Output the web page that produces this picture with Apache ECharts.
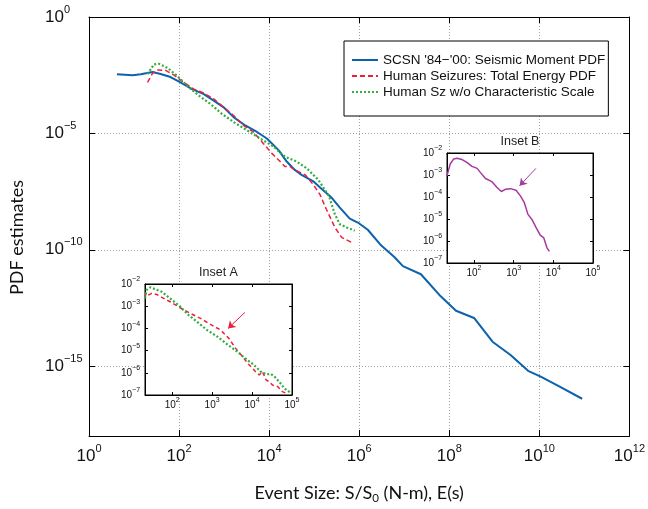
<!DOCTYPE html>
<html>
<head>
<meta charset="utf-8">
<script src="https://cdn.jsdelivr.net/npm/echarts@6/dist/echarts.min.js"></script>
<style>
  html, body { margin: 0; padding: 0; background: #fff; }
  #chart { width: 648px; height: 509px; }
</style>
</head>
<body>
<div id="chart"></div>
<script>
// all values are log10: [log10(size), log10(pdf)]
const scsnMoment = [[0.62,-2.46],[0.97,-2.50],[1.15,-2.46],[1.41,-2.36],[1.59,-2.45],[1.81,-2.58],[2.03,-2.81],[2.29,-3.10],[2.55,-3.31],[2.77,-3.59],[2.99,-3.88],[3.21,-4.30],[3.47,-4.66],[3.73,-4.94],[3.95,-5.22],[4.21,-5.72],[4.39,-6.21],[4.57,-6.57],[4.72,-6.78],[4.98,-7.06],[5.13,-7.32],[5.39,-7.77],[5.57,-8.19],[5.79,-8.66],[5.97,-8.83],[6.19,-9.14],[6.49,-9.82],[6.78,-10.31],[6.97,-10.70],[7.37,-11.05],[7.78,-11.94],[8.15,-12.62],[8.55,-12.93],[8.96,-13.95],[9.36,-14.52],[9.75,-15.20],[10.03,-15.45],[10.43,-15.86],[10.95,-16.40]];
const seizureEnergy = [[1.30,-2.81],[1.41,-2.42],[1.52,-2.28],[1.70,-2.29],[1.89,-2.50],[2.11,-2.81],[2.33,-3.10],[2.55,-3.27],[2.77,-3.52],[2.99,-3.88],[3.21,-4.23],[3.43,-4.66],[3.65,-4.94],[3.87,-5.43],[4.06,-5.86],[4.21,-6.14],[4.35,-6.42],[4.46,-6.42],[4.57,-6.57],[4.80,-6.78],[4.98,-7.20],[5.13,-7.63],[5.27,-8.26],[5.46,-9.04],[5.61,-9.47],[5.83,-9.68]];
const seizureNoScale = [[1.30,-2.46],[1.44,-2.04],[1.55,-2.01],[1.74,-2.18],[1.96,-2.53],[2.18,-2.96],[2.44,-3.38],[2.70,-3.74],[2.95,-4.16],[3.21,-4.51],[3.51,-4.87],[3.80,-5.22],[4.10,-5.57],[4.35,-6.00],[4.61,-6.21],[4.83,-6.49],[5.09,-6.99],[5.33,-7.70],[5.46,-8.48],[5.57,-8.90],[5.72,-9.04],[5.90,-9.18]];

const insetARed = [[1.32,-2.57],[1.35,-2.40],[1.40,-2.50],[1.49,-2.42],[1.61,-2.47],[1.74,-2.60],[1.95,-2.80],[2.20,-3.07],[2.41,-3.28],[2.71,-3.55],[2.96,-3.82],[3.21,-4.07],[3.42,-4.45],[3.59,-4.90],[3.76,-5.27],[3.93,-5.65],[4.09,-5.95],[4.18,-6.10],[4.26,-5.95],[4.35,-6.32],[4.43,-6.40],[4.51,-6.55],[4.64,-6.62],[4.76,-6.85],[4.85,-6.92]];
const insetAGreen = [[1.32,-2.65],[1.36,-2.27],[1.45,-2.15],[1.57,-2.23],[1.74,-2.35],[1.95,-2.65],[2.20,-3.02],[2.41,-3.40],[2.62,-3.70],[2.87,-4.07],[3.13,-4.37],[3.38,-4.72],[3.63,-5.05],[3.88,-5.42],[4.05,-5.65],[4.22,-5.95],[4.35,-6.07],[4.47,-6.05],[4.56,-6.17],[4.68,-6.40],[4.81,-6.70],[4.98,-6.92]];
const insetBPurple = [[1.32,-3.04],[1.40,-2.50],[1.49,-2.27],[1.57,-2.24],[1.70,-2.30],[1.82,-2.43],[1.95,-2.61],[2.08,-2.70],[2.16,-2.88],[2.29,-3.16],[2.45,-3.30],[2.58,-3.57],[2.69,-3.75],[2.79,-3.65],[2.92,-3.62],[3.06,-3.69],[3.17,-3.95],[3.27,-4.26],[3.36,-4.79],[3.46,-5.02],[3.57,-5.40],[3.67,-5.73],[3.76,-5.86],[3.84,-6.31],[3.90,-6.47]];

const arrowA = [[3.82,-3.28],[3.40,-4.00]];
const arrowB = [[3.56,-2.70],[3.15,-3.49]];

const mainYTicks = [0, -5, -10, -15];
const insetXTicks = [2, 3, 4, 5];
const legendNames = ["SCSN '84\u2212'00: Seismic Moment PDF", 'Human Seizures: Total Energy PDF', 'Human Sz w/o Characteristic Scale'];

const BLUE = '#0b62ad', RED = '#ee1f3d', GREEN = '#33ad3f', PURPLE = '#a4399f';
const TICKFONT = 'Liberation Sans';

function pow10(v) {
  const n = Math.round(v);
  return '{b|10}{e|' + (n < 0 ? '\u2212' + (-n) : n) + '}';
}
const mainRich = {
  b: { fontSize: 17, lineHeight: 26, fontFamily: TICKFONT, color: '#111' },
  e: { fontSize: 11, lineHeight: 11, verticalAlign: 'top', fontFamily: TICKFONT, color: '#111' }
};
const insetRich = {
  b: { fontSize: 10, lineHeight: 16, fontFamily: TICKFONT, color: '#111' },
  e: { fontSize: 7, lineHeight: 7, verticalAlign: 'top', fontFamily: TICKFONT, color: '#111' }
};
const gridDots = { show: true, lineStyle: { color: '#a0a0a0', type: [1, 2], width: 1 } };
const frameLine = { show: true, onZero: false, lineStyle: { color: '#000', width: 1 } };

function mirror(extra) {
  return Object.assign({
    type: 'value', axisLine: frameLine, axisLabel: { show: false },
    splitLine: { show: false }
  }, extra);
}

const chart = echarts.init(document.getElementById('chart'));
chart.setOption({
  animation: false,
  backgroundColor: '#fff',
  grid: [
    { left: 88, top: 17, width: 543, height: 425 },
    { left: 145, top: 284, width: 147, height: 111, show: true, backgroundColor: '#fff', borderColor: '#000', borderWidth: 1, z: 5 },
    { left: 447, top: 153, width: 146, height: 110, show: true, backgroundColor: '#fff', borderColor: '#000', borderWidth: 1, z: 5 }
  ],
  legend: {
    orient: 'vertical', left: 344, top: 41,
    padding: [12, 3, 17, 7], itemGap: 2, itemWidth: 26, itemHeight: 14,
    borderColor: '#000', borderWidth: 1, backgroundColor: '#fff',
    itemStyle: { opacity: 0 },
    textStyle: { fontFamily: TICKFONT, fontSize: 13.5, color: '#111' },
    data: legendNames
  },
  xAxis: [
    { type: 'value', gridIndex: 0, min: 0, max: 12, interval: 2, axisLine: frameLine,
      axisTick: { inside: true, length: 6, lineStyle: { color: '#000' } },
      axisLabel: { formatter: pow10, rich: mainRich, margin: 7 },
      splitLine: gridDots,
      name: '{a|Event Size: S/S}{s|0}{a| (N-m), E(s)}', nameLocation: 'middle', nameGap: 46,
      nameTextStyle: { rich: {
        a: { fontFamily: 'Lato', fontSize: 18, lineHeight: 22, color: '#111' },
        s: { fontFamily: 'Lato', fontSize: 11.5, lineHeight: 11, verticalAlign: 'bottom', color: '#111' } } } },
    mirror({ gridIndex: 0, position: 'top', min: 0, max: 12, interval: 2,
      axisTick: { inside: true, length: 6, lineStyle: { color: '#000' } } }),
    { type: 'value', gridIndex: 1, min: 1.32, max: 5, axisLine: frameLine, z: 6,
      axisTick: { inside: true, length: 3, customValues: insetXTicks, lineStyle: { color: '#000' } },
      axisLabel: { formatter: pow10, rich: insetRich, margin: 2, customValues: insetXTicks },
      splitLine: { show: false } },
    mirror({ gridIndex: 1, position: 'top', min: 1.32, max: 5, z: 6,
      axisTick: { inside: true, length: 3, customValues: insetXTicks, lineStyle: { color: '#000' } },
      name: 'Inset A', nameLocation: 'middle', nameGap: 5,
      nameTextStyle: { fontFamily: TICKFONT, fontSize: 12.5, color: '#222' } }),
    { type: 'value', gridIndex: 2, min: 1.32, max: 5, axisLine: frameLine, z: 6,
      axisTick: { inside: true, length: 3, customValues: insetXTicks, lineStyle: { color: '#000' } },
      axisLabel: { formatter: pow10, rich: insetRich, margin: 2, customValues: insetXTicks },
      splitLine: { show: false } },
    mirror({ gridIndex: 2, position: 'top', min: 1.32, max: 5, z: 6,
      axisTick: { inside: true, length: 3, customValues: insetXTicks, lineStyle: { color: '#000' } },
      name: 'Inset B', nameLocation: 'middle', nameGap: 5,
      nameTextStyle: { fontFamily: TICKFONT, fontSize: 12.5, color: '#222' } })
  ],
  yAxis: [
    { type: 'value', gridIndex: 0, min: -18, max: 0, axisLine: frameLine,
      axisTick: { inside: true, length: 6, customValues: mainYTicks, lineStyle: { color: '#000' } },
      axisLabel: { formatter: pow10, rich: mainRich, align: 'left', margin: 44, customValues: mainYTicks },
      splitLine: gridDots,
      name: 'PDF estimates', nameLocation: 'middle', nameGap: 63, nameRotate: 90,
      nameTextStyle: { fontFamily: 'Lato', fontSize: 18, color: '#111', padding: [0, 22, 0, 0] } },
    mirror({ gridIndex: 0, position: 'right', min: -18, max: 0,
      axisTick: { inside: true, length: 6, customValues: mainYTicks, lineStyle: { color: '#000' } } }),
    { type: 'value', gridIndex: 1, min: -7, max: -2, interval: 1, axisLine: frameLine, z: 6,
      axisTick: { inside: true, length: 3, lineStyle: { color: '#000' } },
      axisLabel: { formatter: pow10, rich: insetRich, align: 'left', margin: 24 },
      splitLine: { show: false } },
    mirror({ gridIndex: 1, position: 'right', min: -7, max: -2, interval: 1, z: 6,
      axisTick: { inside: true, length: 3, lineStyle: { color: '#000' } } }),
    { type: 'value', gridIndex: 2, min: -7, max: -2, interval: 1, axisLine: frameLine, z: 6,
      axisTick: { inside: true, length: 3, lineStyle: { color: '#000' } },
      axisLabel: { formatter: pow10, rich: insetRich, align: 'left', margin: 24 },
      splitLine: { show: false } },
    mirror({ gridIndex: 2, position: 'right', min: -7, max: -2, interval: 1, z: 6,
      axisTick: { inside: true, length: 3, lineStyle: { color: '#000' } } })
  ],
  series: [
    { name: legendNames[0], type: 'line', xAxisIndex: 0, yAxisIndex: 0, data: scsnMoment,
      symbol: 'none', color: BLUE, lineStyle: { color: BLUE, width: 2 } },
    { name: legendNames[1], type: 'line', xAxisIndex: 0, yAxisIndex: 0, data: seizureEnergy,
      symbol: 'none', color: RED, lineStyle: { color: RED, width: 1.5, type: [5, 3] } },
    { name: legendNames[2], type: 'line', xAxisIndex: 0, yAxisIndex: 0, data: seizureNoScale,
      symbol: 'none', color: GREEN, lineStyle: { color: GREEN, width: 2.2, type: [2, 2] } },
    { type: 'line', xAxisIndex: 2, yAxisIndex: 2, data: insetARed, z: 7,
      symbol: 'none', lineStyle: { color: RED, width: 1.5, type: [4, 3] },
      markLine: { silent: true, symbol: ['none', 'arrow'], symbolSize: 7, label: { show: false },
        lineStyle: { color: RED, type: 'solid', width: 1 },
        data: [[{ coord: arrowA[0] }, { coord: arrowA[1] }]] } },
    { type: 'line', xAxisIndex: 2, yAxisIndex: 2, data: insetAGreen, z: 7,
      symbol: 'none', lineStyle: { color: GREEN, width: 2.2, type: [2, 2] } },
    { type: 'line', xAxisIndex: 4, yAxisIndex: 4, data: insetBPurple, z: 7,
      symbol: 'none', lineStyle: { color: PURPLE, width: 1.5 },
      markLine: { silent: true, symbol: ['none', 'arrow'], symbolSize: 7, label: { show: false },
        lineStyle: { color: PURPLE, type: 'solid', width: 1 },
        data: [[{ coord: arrowB[0] }, { coord: arrowB[1] }]] } }
  ]
});
</script>
</body>
</html>
